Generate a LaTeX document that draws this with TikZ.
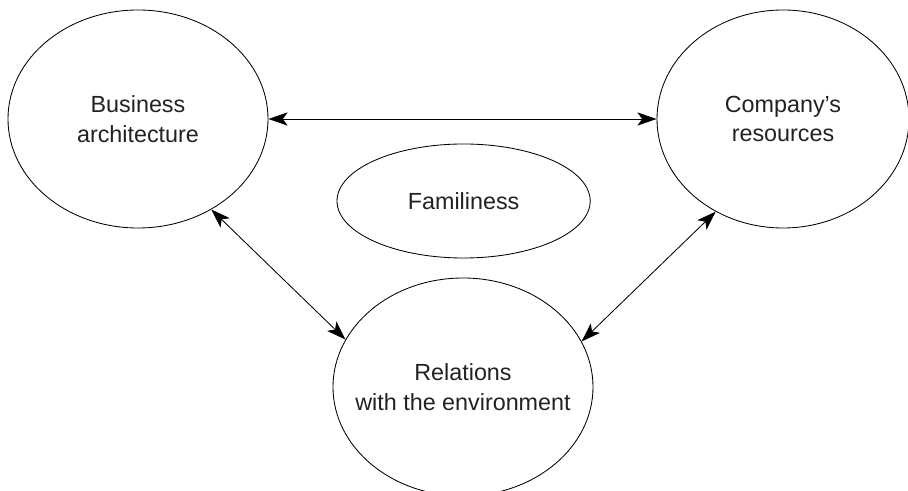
\documentclass[tikz,border=0pt]{standalone}
\usepackage{fontspec}
\setmainfont{Liberation Sans}
\usetikzlibrary{arrows.meta,shapes.geometric}
\definecolor{txtgray}{HTML}{222222}
\tikzset{bubble/.style={ellipse,draw,line width=.6pt,inner sep=0,align=center,text=txtgray,font=\fontsize{16.6}{21.3}\selectfont},
link/.style={{Stealth[length=4.8mm,width=3.3mm,inset=1.2mm]}-{Stealth[length=4.8mm,width=3.3mm,inset=1.2mm]},line width=.6pt}}
\begin{document}
\begin{tikzpicture}
\useasboundingbox(0,0)rectangle(22.7,12.275);
\node[bubble,minimum width=6.5cm,minimum height=5.45cm](biz)at(3.45,9.3){Business\\architecture};\node[bubble,minimum width=6.3cm,minimum height=5.45cm](res)at(19.575,9.3){Company’s\\resources};\node[bubble,minimum width=6.33cm,minimum height=2.85cm](fam)at(11.59,7.25){Familiness};\node[bubble,inner xsep=-1cm,minimum width=6.5cm,minimum height=5.45cm](rel)at(11.575,2.6){Relations\\with the environment};
\draw[link](biz)--(res);\draw[link](biz.-51)--(rel.158);\draw[link](res.-126)--(rel.21);
\end{tikzpicture}
\end{document}
